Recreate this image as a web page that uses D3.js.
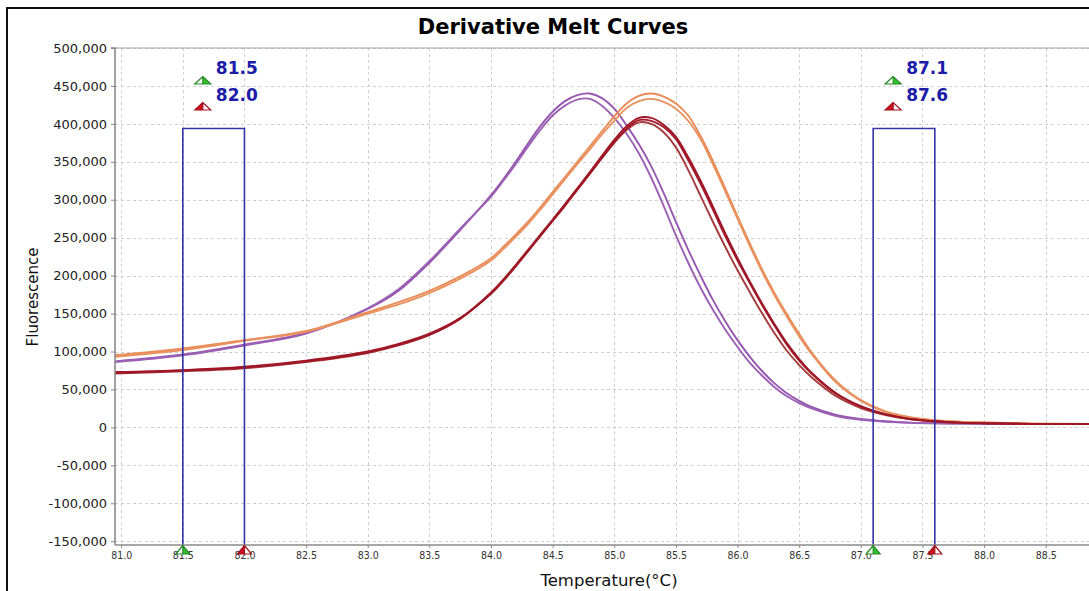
<!DOCTYPE html>
<html>
<head>
<meta charset="utf-8">
<script src="https://cdn.jsdelivr.net/npm/d3@7"></script>
<style>
  html, body { margin: 0; padding: 0; background: #fff; }
  svg { display: block; }
  text { font-family: "DejaVu Sans", Verdana, sans-serif; }
</style>
</head>
<body>
<svg id="chart" width="1089" height="591"></svg>
<script>
// Temperature sample points (°C) shared by every melt curve
const temps = [80.95, 81.5, 82.0, 82.5, 83.0, 83.25, 83.5, 83.75, 84.0, 84.1,
  84.2, 84.3, 84.4, 84.5, 84.6, 84.7, 84.8, 84.9, 85.0, 85.1,
  85.2, 85.3, 85.4, 85.5, 85.6, 85.7, 85.8, 85.9, 86.0, 86.1,
  86.2, 86.3, 86.4, 86.5, 86.6, 86.8, 87.0, 87.2, 87.4, 87.6,
  87.8, 88.0, 88.4, 88.94];

// -dF/dT per well
const purpleA = [87000, 96000, 109000, 124500, 156000, 180000, 217000, 260000, 306000, 327000,
  350000, 374000, 397000, 416000, 430000, 438000, 440000, 434000, 420000, 398000,
  373000, 344000, 309000, 271000, 234000, 200000, 168000, 140000, 115000, 93000,
  74000, 58000, 45000, 35000, 27000, 16500, 11000, 8000, 6300, 5400,
  5000, 4800, 4600, 4500];
const purpleB = [86000, 95000, 108000, 123500, 157000, 182000, 219000, 262000, 304000, 325000,
  347000, 370000, 392000, 411000, 424000, 432000, 433000, 424000, 408000, 387000,
  361000, 329000, 292000, 253000, 217000, 184000, 155000, 129000, 106000, 85000,
  68000, 53000, 41000, 32000, 25000, 15000, 10000, 7500, 6000, 5300,
  5000, 4800, 4600, 4500];
const orangeA = [95000, 104000, 115000, 127000, 152000, 165000, 180000, 199000, 223000, 238000,
  254000, 271000, 290000, 310000, 330000, 350000, 370000, 390000, 410000, 427000,
  437000, 440000, 436000, 427000, 411000, 384000, 351000, 315000, 278000, 242000,
  208000, 177000, 149000, 123000, 99000, 61000, 36000, 21000, 13500, 9500,
  7500, 6500, 5000, 4500];
const orangeB = [93000, 102000, 114000, 126000, 150000, 162000, 177000, 196000, 220000, 235000,
  251000, 268000, 287000, 307000, 327000, 347000, 366000, 386000, 404000, 421000,
  430000, 433000, 429000, 420000, 404000, 380000, 347000, 311000, 275000, 239000,
  205000, 174000, 146000, 120000, 97000, 59000, 35000, 20500, 13000, 9200,
  7300, 6300, 5000, 4500];
const redA = [72000, 75000, 79000, 87000, 99000, 109000, 122000, 143000, 177000, 194000,
  213000, 233000, 253000, 273000, 294000, 315000, 336000, 358000, 379000, 397000,
  408000, 408000, 399000, 383000, 356000, 325000, 291000, 256000, 223000, 192000,
  163000, 136000, 111000, 90000, 72000, 45000, 28000, 17500, 11200, 8000,
  6300, 5500, 4600, 4200];
const redB = [71000, 74000, 78000, 86000, 98000, 108000, 122000, 144000, 178000, 195000,
  214000, 234000, 254000, 274000, 294000, 314000, 334000, 355000, 375000, 392000,
  402000, 400000, 389000, 369000, 339000, 305000, 271000, 238000, 207000, 178000,
  150000, 124000, 101000, 82000, 66000, 41000, 25500, 16200, 10600, 7800,
  6200, 5400, 4600, 4200];
const redC = [73000, 75500, 80000, 88000, 100000, 110000, 123500, 144000, 176000, 193000,
  212000, 232000, 252000, 272000, 292000, 313000, 334000, 355000, 376000, 394000,
  405000, 404000, 396000, 380000, 352000, 321000, 287000, 252000, 220000, 190000,
  161000, 134000, 109000, 88000, 71000, 44000, 27500, 17300, 11100, 8000,
  6300, 5500, 4600, 4200];

const wells = [
  { values: purpleA, color: "#9557b0" },
  { values: purpleB, color: "#9b60b4" },
  { values: orangeA, color: "#ea8c57" },
  { values: orangeB, color: "#e9925f" },
  { values: redB,    color: "#a53a3c" },
  { values: redC,    color: "#a2192b" },
  { values: redA,    color: "#9f1626" }
];

// Axis ticks
const tempTicks = [81.0, 81.5, 82.0, 82.5, 83.0, 83.5, 84.0, 84.5, 85.0, 85.5, 86.0, 86.5, 87.0, 87.5, 88.0, 88.5];
const fluorTicks = [-150000, -100000, -50000, 0, 50000, 100000, 150000, 200000, 250000, 300000, 350000, 400000, 450000, 500000];
const tempDomain = [80.95, 88.94];
const fluorDomain = [-155000, 500000];

// Melt-peak regions: lower and upper temperature bounds
const regionLow = [81.5, 87.1];
const regionHigh = [82.0, 87.6];
const regionTop = 394000;

const svg = d3.select("#chart");
const plot = { left: 115, right: 1100, top: 48, bottom: 545 };

const x = d3.scaleLinear().domain(tempDomain).range([plot.left, plot.right]);
const y = d3.scaleLinear().domain(fluorDomain).range([plot.bottom, plot.top]);

const locale = d3.formatLocale({ decimal: ".", thousands: ",", grouping: [3], currency: ["", ""], minus: "-" });
const fmtY = locale.format(",");
const fmtX = d3.format(".1f");

// Outer frame
svg.append("rect")
  .attr("x", 7).attr("y", 8).attr("width", 1200).attr("height", 700)
  .attr("fill", "none").attr("stroke", "#111").attr("stroke-width", 2);

// Title
svg.append("text")
  .attr("x", 553).attr("y", 34)
  .attr("text-anchor", "middle")
  .attr("font-weight", "bold")
  .attr("font-size", 21)
  .attr("fill", "#000")
  .text("Derivative Melt Curves");

// Grid
const grid = svg.append("g").attr("stroke", "#cfcfcf").attr("stroke-dasharray", "3,3").attr("stroke-width", 1);
grid.selectAll("line.v").data(tempTicks).join("line")
  .attr("class", "v")
  .attr("x1", d => Math.round(x(d)) + 0.5).attr("x2", d => Math.round(x(d)) + 0.5)
  .attr("y1", plot.top).attr("y2", plot.bottom);
grid.selectAll("line.h").data(fluorTicks).join("line")
  .attr("class", "h")
  .attr("y1", d => Math.round(y(d)) + 0.5).attr("y2", d => Math.round(y(d)) + 0.5)
  .attr("x1", plot.left).attr("x2", plot.right);

// Top border of the plot area
svg.append("line")
  .attr("x1", plot.left).attr("x2", plot.right)
  .attr("y1", plot.top).attr("y2", plot.top)
  .attr("stroke", "#a0a0a0").attr("stroke-width", 1.2);

// Curves
svg.append("clipPath").attr("id", "plotClip")
  .append("rect")
  .attr("x", plot.left).attr("y", plot.top)
  .attr("width", plot.right - plot.left).attr("height", plot.bottom - plot.top);

const line = d3.line()
  .x((d, i) => x(temps[i]))
  .y(d => y(d))
  .curve(d3.curveCatmullRom.alpha(0.5));

svg.append("g").attr("clip-path", "url(#plotClip)")
  .selectAll("path").data(wells).join("path")
  .attr("d", d => line(d.values))
  .attr("fill", "none")
  .attr("stroke", d => d.color)
  .attr("stroke-width", 1.9)
  .attr("stroke-linejoin", "round");

// Region boxes
const regions = regionLow.map((lo, i) => ({ lo, hi: regionHigh[i] }));
const boxColor = "#3434a6";
svg.append("g").selectAll("path").data(regions).join("path")
  .attr("d", d => `M${x(d.lo)},${y(fluorDomain[0])}V${y(regionTop)}H${x(d.hi)}V${y(fluorDomain[0])}`)
  .attr("fill", "none")
  .attr("stroke", boxColor)
  .attr("stroke-width", 1.6);

// Axes
const axisColor = "#8a8a8a";
const yAxis = svg.append("g")
  .attr("transform", `translate(${plot.left},0)`)
  .call(d3.axisLeft(y).tickValues(fluorTicks).tickFormat(fmtY).tickSize(4).tickPadding(4));
yAxis.select(".domain").attr("stroke", axisColor).attr("stroke-width", 1.6).attr("d", `M-4,${plot.top}H0V${plot.bottom}`);
yAxis.selectAll(".tick line").attr("stroke", axisColor);
yAxis.selectAll(".tick text").attr("font-size", 13).attr("fill", "#222")
  .attr("font-family", "'DejaVu Sans', Verdana, sans-serif");

const xAxis = svg.append("g")
  .attr("transform", `translate(0,${plot.bottom})`)
  .call(d3.axisBottom(x).tickValues(tempTicks).tickFormat(fmtX).tickSize(3).tickPadding(4));
xAxis.select(".domain").attr("stroke", axisColor).attr("stroke-width", 1.6).attr("d", `M${plot.left},0H${plot.right}`);
xAxis.selectAll(".tick line").attr("stroke", axisColor);
xAxis.selectAll(".tick text").attr("font-size", 10.5).attr("fill", "#333")
  .attr("font-family", "'DejaVu Sans Condensed', 'DejaVu Sans', sans-serif")
  .attr("font-stretch", "condensed");

// Axis titles
svg.append("text")
  .attr("transform", "translate(38,297) rotate(-90)")
  .attr("text-anchor", "middle")
  .attr("font-size", 15)
  .attr("fill", "#111")
  .text("Fluorescence");
svg.append("text")
  .attr("x", 609).attr("y", 586)
  .attr("text-anchor", "middle")
  .attr("font-size", 16.5)
  .attr("fill", "#111")
  .text("Temperature(°C)");

// Split triangle marker: one half filled, the other half white
function marker(g, cx, base, w, h, color, edge, filledSide) {
  const apex = [cx, base - h], bl = [cx - w / 2, base], br = [cx + w / 2, base], bm = [cx, base];
  const leftHalf = [apex, bl, bm], rightHalf = [apex, bm, br];
  g.append("path").attr("d", d3.line()(leftHalf) + "Z")
    .attr("fill", filledSide === "left" ? color : "#fff");
  g.append("path").attr("d", d3.line()(rightHalf) + "Z")
    .attr("fill", filledSide === "right" ? color : "#fff");
  g.append("path").attr("d", d3.line()([apex, bl, br]) + "Z" + d3.line()([apex, bm]))
    .attr("fill", "none").attr("stroke", edge).attr("stroke-width", 1.2);
}

const green = "#2fc42f", greenEdge = "#268a26";
const red = "#d2101f", redEdge = "#a0101a";
const markers = svg.append("g");
regions.forEach(r => {
  // bottom handles
  marker(markers, x(r.lo), plot.bottom + 9, 14, 8.5, green, greenEdge, "right");
  marker(markers, x(r.hi), plot.bottom + 9, 14, 8.5, red, redEdge, "left");
  // top labels
  marker(markers, x(r.lo) + 20, 84, 16, 7.5, green, greenEdge, "right");
  marker(markers, x(r.lo) + 20, 110, 16, 7.5, red, redEdge, "left");
  markers.append("text")
    .attr("x", x(r.lo) + 33).attr("y", 74)
    .attr("font-size", 17).attr("font-weight", "bold").attr("fill", "#1c1ca8")
    .text(fmtX(r.lo));
  markers.append("text")
    .attr("x", x(r.lo) + 33).attr("y", 101)
    .attr("font-size", 17).attr("font-weight", "bold").attr("fill", "#1c1ca8")
    .text(fmtX(r.hi));
});
</script>
</body>
</html>
